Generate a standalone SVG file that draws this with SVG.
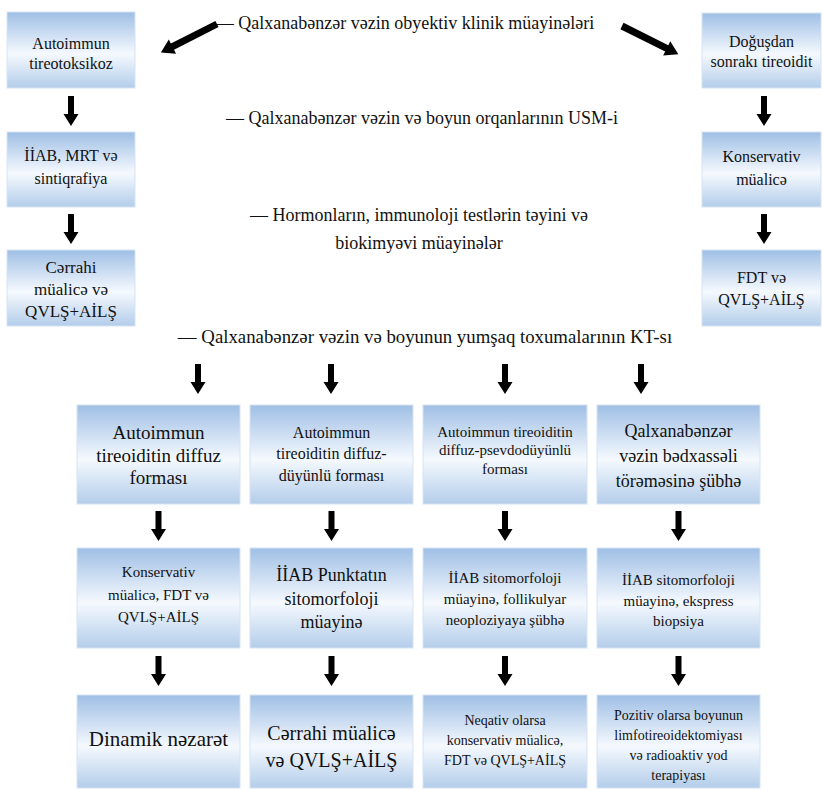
<svg xmlns="http://www.w3.org/2000/svg" width="822" height="790" viewBox="0 0 822 790" font-family="'Liberation Serif', 'Times New Roman', serif">
<style>
  .box { fill: url(#g); stroke: #d6e3f2; stroke-width: 1; }
  text { fill: #111; text-anchor: middle; }
  .t15 { font-size: 15px; }
  .t14 { font-size: 14px; }
  .t16 { font-size: 16px; }
  .t17 { font-size: 17px; }
  .t18 { font-size: 18px; }
  .t19 { font-size: 19px; }
  .t21 { font-size: 21px; }
  .t20 { font-size: 20px; }
  .lab { font-size: 18px; }
  .arr { fill: #000; }
</style>
<defs>
  <linearGradient id="g" x1="0" y1="0" x2="0" y2="1">
    <stop offset="0" stop-color="#9fbfe5"/>
    <stop offset="0.55" stop-color="#f5f9fe"/>
    <stop offset="1" stop-color="#b3cdea"/>
  </linearGradient>
  <path id="va" d="M-3,0 H3 V18 H7.5 L0,30 L-7.5,18 H-3 Z"/>
  <path id="da" d="M0,-3.5 H50 V-8 L63,0 L50,8 V3.5 H0 Z"/>
</defs>

<!-- central labels -->
<g id="labels">
  <text class="lab" x="405" y="29">— Qalxanabənzər vəzin obyektiv klinik müayinələri</text>
  <text class="lab" x="422" y="124">— Qalxanabənzər vəzin və boyun orqanlarının USM-i</text>
  <text class="lab" x="419" y="221">— Hormonların, immunoloji testlərin təyini və</text>
  <text class="lab" x="419" y="249">biokimyəvi müayinələr</text>
  <text class="lab" x="425" y="343" style="font-size:18.8px">— Qalxanabənzər vəzin və boyunun yumşaq toxumalarının KT-sı</text>
</g>

<!-- left column -->
<g id="L1"><rect class="box" x="7" y="12" width="128" height="76"/>
  <text class="t16" x="71" y="49">Autoimmun</text><text class="t16" x="71" y="69">tireotoksikoz</text></g>
<g id="L2"><rect class="box" x="7" y="132" width="128" height="75"/>
  <text class="t16" x="71" y="161">İİAB, MRT və</text><text class="t16" x="71" y="184">sintiqrafiya</text></g>
<g id="L3"><rect class="box" x="7" y="250" width="128" height="76"/>
  <text class="t17" x="71" y="273">Cərrahi</text><text class="t17" x="71" y="295">müalicə və</text><text class="t17" x="71" y="317">QVLŞ+AİLŞ</text></g>

<!-- right column -->
<g id="R1"><rect class="box" x="702" y="13" width="119" height="75"/>
  <text class="t16" x="761.5" y="47">Doğuşdan</text><text class="t16" x="761.5" y="67">sonrakı tireoidit</text></g>
<g id="R2"><rect class="box" x="702" y="132" width="119" height="75"/>
  <text class="t16" x="761.5" y="162">Konservativ</text><text class="t16" x="761.5" y="185">müalicə</text></g>
<g id="R3"><rect class="box" x="702" y="250" width="119" height="76"/>
  <text class="t16" x="761.5" y="283">FDT və</text><text class="t16" x="761.5" y="305">QVLŞ+AİLŞ</text></g>

<!-- row 1 -->
<g id="A1"><rect class="box" x="77" y="405" width="163" height="99"/>
  <text class="t19" x="158.5" y="439">Autoimmun</text><text class="t19" x="158.5" y="462">tireoiditin diffuz</text><text class="t19" x="158.5" y="484">forması</text></g>
<g id="B1"><rect class="box" x="250" y="405" width="163" height="99"/>
  <text class="t16" x="331.5" y="438">Autoimmun</text><text class="t16" x="331.5" y="459">tireoiditin diffuz-</text><text class="t16" x="331.5" y="481">düyünlü forması</text></g>
<g id="C1"><rect class="box" x="423" y="405" width="164" height="99"/>
  <text class="t15" x="505" y="437">Autoimmun tireoiditin</text><text class="t15" x="505" y="455">diffuz-psevdodüyünlü</text><text class="t15" x="505" y="474">forması</text></g>
<g id="D1"><rect class="box" x="597" y="405" width="163" height="99"/>
  <text class="t18" x="678.5" y="437">Qalxanabənzər</text><text class="t18" x="678.5" y="462">vəzin bədxassəli</text><text class="t18" x="678.5" y="487">törəməsinə şübhə</text></g>

<!-- row 2 -->
<g id="A2"><rect class="box" x="77" y="548" width="163" height="100"/>
  <text class="t15" x="158.5" y="577">Konservativ</text><text class="t15" x="158.5" y="600">müalicə, FDT və</text><text class="t15" x="158.5" y="622">QVLŞ+AİLŞ</text></g>
<g id="B2"><rect class="box" x="250" y="548" width="163" height="100"/>
  <text class="t18" x="331.5" y="581">İİAB Punktatın</text><text class="t18" x="331.5" y="605">sitomorfoloji</text><text class="t18" x="331.5" y="628">müayinə</text></g>
<g id="C2"><rect class="box" x="423" y="548" width="164" height="100"/>
  <text class="t15" x="505" y="583">İİAB sitomorfoloji</text><text class="t15" x="505" y="604">müayinə, follikulyar</text><text class="t15" x="505" y="625">neoploziyaya şübhə</text></g>
<g id="D2"><rect class="box" x="597" y="548" width="163" height="100"/>
  <text class="t15" x="678.5" y="585">İİAB sitomorfoloji</text><text class="t15" x="678.5" y="606">müayinə, ekspress</text><text class="t15" x="678.5" y="626">biopsiya</text></g>

<!-- row 3 -->
<g id="A3"><rect class="box" x="77" y="695" width="163" height="93"/>
  <text class="t21" x="158.5" y="746">Dinamik nəzarət</text></g>
<g id="B3"><rect class="box" x="250" y="695" width="163" height="93"/>
  <text class="t20" x="331.5" y="740">Cərrahi müalicə</text><text class="t20" x="331.5" y="767">və QVLŞ+AİLŞ</text></g>
<g id="C3"><rect class="box" x="423" y="695" width="164" height="93"/>
  <text class="t14" x="505" y="725">Neqativ olarsa</text><text class="t14" x="505" y="745">konservativ müalicə,</text><text class="t14" x="505" y="765">FDT və QVLŞ+AİLŞ</text></g>
<g id="D3"><rect class="box" x="597" y="695" width="163" height="93"/>
  <text class="t14" x="678.5" y="720">Pozitiv olarsa boyunun</text><text class="t14" x="678.5" y="740">limfotireoidektomiyası</text><text class="t14" x="678.5" y="760">və radioaktiv yod</text><text class="t14" x="678.5" y="780">terapiyası</text></g>

<!-- connectors -->
<g id="connectors" class="arr">
  <use href="#da" transform="translate(217,24) rotate(153)"/>
  <use href="#da" transform="translate(622,26) rotate(26.6)"/>
  <use href="#va" x="71" y="96"/>
  <use href="#va" x="71" y="214"/>
  <use href="#va" x="764" y="96"/>
  <use href="#va" x="764" y="214"/>
  <use href="#va" x="198" y="364"/>
  <use href="#va" x="331" y="364"/>
  <use href="#va" x="505" y="364"/>
  <use href="#va" x="641" y="364"/>
  <use href="#va" x="158.5" y="511"/>
  <use href="#va" x="331.5" y="511"/>
  <use href="#va" x="505" y="511"/>
  <use href="#va" x="678.5" y="511"/>
  <use href="#va" x="158.5" y="656"/>
  <use href="#va" x="331.5" y="656"/>
  <use href="#va" x="505" y="656"/>
  <use href="#va" x="678.5" y="656"/>
</g>
</svg>
